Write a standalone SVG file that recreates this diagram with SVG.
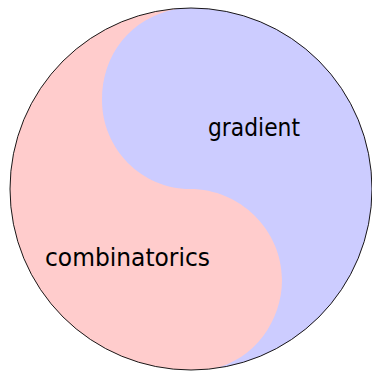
<svg xmlns="http://www.w3.org/2000/svg" width="372" height="371" viewBox="0 0 372 371">
<style>
.lbl{font-family:"DejaVu Sans","Liberation Sans",sans-serif;font-size:24px;fill:#000}
</style>
<defs>
<clipPath id="disc"><circle cx="191" cy="189" r="181"/></clipPath>
</defs>
<rect width="372" height="371" fill="#fff"/>
<g id="combinatorics-region">
<circle cx="191" cy="189" r="181" fill="#ffcccc"/>
</g>
<g id="gradient-region" clip-path="url(#disc)">
<path d="M176 9 C130 18 102 55 102 100 C102 149 142 189 190 189 C240 189 282 230 282 280 C282 320 255 360 212 369 L212 390 L390 390 L390 -10 L176 -10 Z" fill="#ccccff"/>
</g>
<g id="outline">
<circle cx="191" cy="189" r="181" fill="none" stroke="#000" stroke-width="0.9"/>
</g>
<g id="labels">
<text class="lbl" x="208" y="136" textLength="92" lengthAdjust="spacingAndGlyphs">gradient</text>
<text class="lbl" x="45" y="266" textLength="165" lengthAdjust="spacingAndGlyphs">combinatorics</text>
</g>
</svg>
